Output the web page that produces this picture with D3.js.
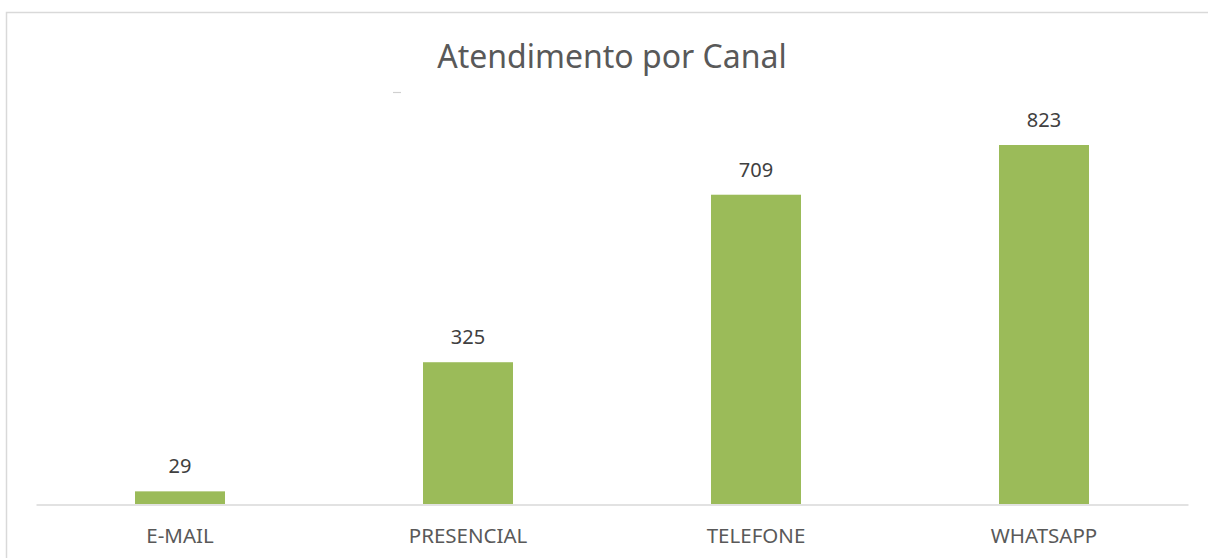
<!DOCTYPE html>
<html>
<head>
<meta charset="utf-8">
<script src="https://cdn.jsdelivr.net/npm/d3@7"></script>
<style>
  body { margin: 0; background: #fff; }
  text { font-family: "Noto Sans", "Open Sans", sans-serif; }
</style>
</head>
<body>
<div id="chart"></div>
<script>
let svgWidth = 1208;
let svgHeight = 558;

// Data
let categories = ["E-MAIL", "PRESENCIAL", "TELEFONE", "WHATSAPP"];
let values = [29, 325, 709, 823];
let chartTitle = "Atendimento por Canal";

let svg = d3.select("#chart").append("svg")
  .attr("width", svgWidth)
  .attr("height", svgHeight);

svg.append("rect").attr("width", svgWidth).attr("height", svgHeight).attr("fill", "#fff");

// chart border (only top and left visible in the crop)
svg.append("path")
  .attr("d", `M6.5,${svgHeight} V12.5 H${svgWidth}`)
  .attr("fill", "none")
  .attr("stroke", "#d9d9d9")
  .attr("stroke-width", 1.5);

// Scales
let plotLeft = 36, plotRight = 1188, baseY = 504;

let x = d3.scaleBand()
  .domain(categories)
  .range([plotLeft, plotRight])
  .paddingInner(0.6875)
  .paddingOuter(0.34375);

let y = d3.scaleLinear()
  .domain([0, 900])
  .range([baseY, baseY - 900 * (359 / 823)]);

// Title
svg.append("text")
  .attr("x", 612)
  .attr("y", 68)
  .attr("text-anchor", "middle")
  .attr("fill", "#595959")
  .style("font-size", "32px")
  .text(chartTitle);

// small stray dash under title
svg.append("line")
  .attr("x1", 393).attr("x2", 401)
  .attr("y1", 92.5).attr("y2", 92.5)
  .attr("stroke", "#d0d0d0")
  .attr("stroke-width", 1.2);

// Bars
svg.selectAll("rect.bar")
  .data(values)
  .enter()
  .append("rect")
  .attr("class", "bar")
  .attr("x", (d, i) => x(categories[i]))
  .attr("y", d => y(d))
  .attr("width", x.bandwidth())
  .attr("height", d => y(0) - y(d))
  .attr("fill", "#9bbb59");

// Data labels
svg.selectAll("text.val")
  .data(values)
  .enter()
  .append("text")
  .attr("class", "val")
  .attr("x", (d, i) => x(categories[i]) + x.bandwidth() / 2)
  .attr("y", d => y(d) - 18)
  .attr("text-anchor", "middle")
  .attr("fill", "#404040")
  .style("font-size", "20px")
  .text(d => d);

// X axis
let xAxis = svg.append("g")
  .attr("transform", `translate(0, ${baseY + 0.5})`)
  .call(d3.axisBottom(x).tickSize(0).tickPadding(0).tickSizeOuter(0));

xAxis.select(".domain")
  .attr("stroke", "#d9d9d9")
  .attr("stroke-width", 1.5);

xAxis.selectAll(".tick text")
  .attr("y", 38)
  .attr("dy", 0)
  .attr("fill", "#595959")
  .style("font-size", "20.5px")
  .style("font-family", "'Noto Sans', sans-serif");
</script>
</body>
</html>
